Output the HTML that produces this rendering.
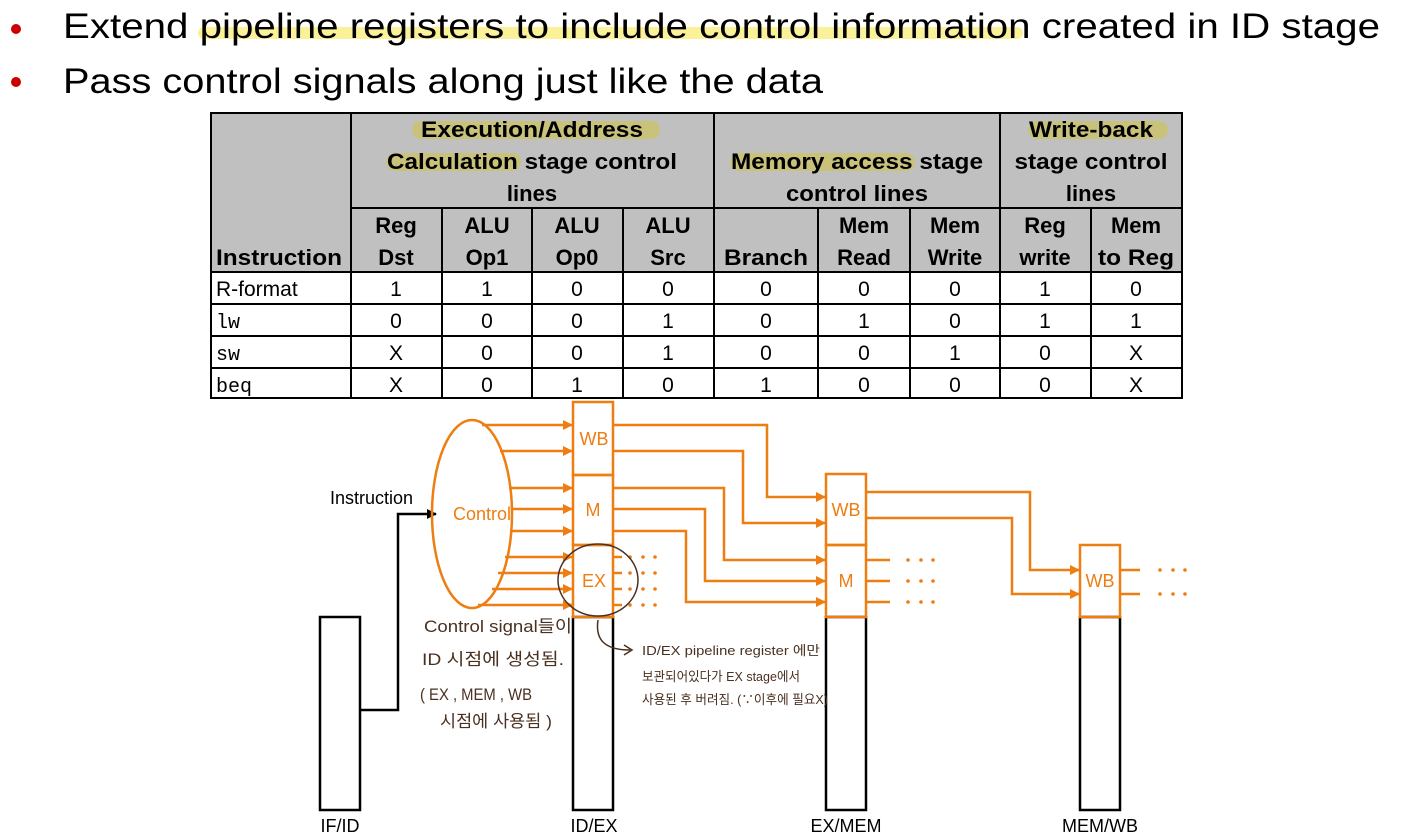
<!DOCTYPE html>
<html><head><meta charset="utf-8"><style>
html,body{margin:0;padding:0;background:#fff;}
svg{display:block;}
</style></head><body>
<svg width="1419" height="836" viewBox="0 0 1419 836" xmlns="http://www.w3.org/2000/svg" font-family="Liberation Sans, sans-serif">
<defs>
<marker id="ao" markerWidth="10" markerHeight="10" refX="9" refY="5" orient="auto" markerUnits="userSpaceOnUse"><path d="M0,0 L10,5 L0,10 z" fill="#ee7d12"/></marker>
<marker id="ab" markerWidth="10" markerHeight="10" refX="9" refY="5" orient="auto" markerUnits="userSpaceOnUse"><path d="M0,0 L10,5 L0,10 z" fill="#000"/></marker>
<g id="d1" fill="#ee7d12"><circle cx="630" cy="0" r="1.8"/><circle cx="643" cy="0" r="1.8"/><circle cx="655" cy="0" r="1.8"/></g>
</defs>
<!-- highlights -->
<rect x="198" y="27" width="825" height="12" rx="6" fill="#fbf199"/>
<circle cx="16" cy="29" r="5" fill="#cc0000"/>
<circle cx="16" cy="82" r="5" fill="#cc0000"/>
<text x="63" y="38" font-size="35" textLength="1317" lengthAdjust="spacingAndGlyphs">Extend pipeline registers to include control information created in ID stage</text>
<text x="63" y="93" font-size="35" textLength="760" lengthAdjust="spacingAndGlyphs">Pass control signals along just like the data</text>

<!-- table -->
<rect x="211" y="113" width="971" height="159" fill="#c0c0c0"/>
<rect x="412" y="121" width="248" height="18" rx="9" fill="#c9c27a"/>
<rect x="386" y="153" width="135" height="18" rx="9" fill="#c9c27a"/>
<rect x="730" y="153" width="185" height="18" rx="9" fill="#c9c27a"/>
<rect x="1028" y="121" width="140" height="18" rx="9" fill="#c9c27a"/>
<g stroke="#000" stroke-width="2" fill="none">
<rect x="211" y="113" width="971" height="285"/>
<line x1="351" y1="113" x2="351" y2="398"/>
<line x1="714" y1="113" x2="714" y2="398"/>
<line x1="1000" y1="113" x2="1000" y2="398"/>
<line x1="351" y1="208" x2="1182" y2="208"/>
<line x1="442" y1="208" x2="442" y2="398"/>
<line x1="532" y1="208" x2="532" y2="398"/>
<line x1="623" y1="208" x2="623" y2="398"/>
<line x1="818" y1="208" x2="818" y2="398"/>
<line x1="910" y1="208" x2="910" y2="398"/>
<line x1="1091" y1="208" x2="1091" y2="398"/>
<line x1="211" y1="272" x2="1182" y2="272"/>
<line x1="211" y1="304" x2="1182" y2="304"/>
<line x1="211" y1="336" x2="1182" y2="336"/>
<line x1="211" y1="368" x2="1182" y2="368"/>
</g>
<g font-size="22" font-weight="bold" text-anchor="middle">
<text x="532" y="137" textLength="222" lengthAdjust="spacingAndGlyphs">Execution/Address</text>
<text x="532" y="169" textLength="290" lengthAdjust="spacingAndGlyphs">Calculation stage control</text>
<text x="532" y="201">lines</text>
<text x="857" y="169" textLength="252" lengthAdjust="spacingAndGlyphs">Memory access stage</text>
<text x="857" y="201" textLength="142" lengthAdjust="spacingAndGlyphs">control lines</text>
<text x="1091" y="137" textLength="124" lengthAdjust="spacingAndGlyphs">Write-back</text>
<text x="1091" y="169" textLength="153" lengthAdjust="spacingAndGlyphs">stage control</text>
<text x="1091" y="201">lines</text>
<text x="279" y="265" textLength="126" lengthAdjust="spacingAndGlyphs">Instruction</text>
<text x="396" y="233">Reg</text><text x="396" y="265">Dst</text>
<text x="487" y="233">ALU</text><text x="487" y="265">Op1</text>
<text x="577" y="233">ALU</text><text x="577" y="265">Op0</text>
<text x="668" y="233">ALU</text><text x="668" y="265">Src</text>
<text x="766" y="265" textLength="84" lengthAdjust="spacingAndGlyphs">Branch</text>
<text x="864" y="233">Mem</text><text x="864" y="265">Read</text>
<text x="955" y="233">Mem</text><text x="955" y="265">Write</text>
<text x="1045" y="233">Reg</text><text x="1045" y="265">write</text>
<text x="1136" y="233">Mem</text><text x="1136" y="265" textLength="76" lengthAdjust="spacingAndGlyphs">to Reg</text>
</g>
<g font-size="21" text-anchor="middle">
<text x="216" y="296" text-anchor="start">R-format</text>
<text x="216" y="328" text-anchor="start" font-family="Liberation Mono, monospace" font-size="20">lw</text>
<text x="216" y="360" text-anchor="start" font-family="Liberation Mono, monospace" font-size="20">sw</text>
<text x="216" y="392" text-anchor="start" font-family="Liberation Mono, monospace" font-size="20">beq</text>
<text x="396" y="296">1</text><text x="487" y="296">1</text><text x="577" y="296">0</text><text x="668" y="296">0</text><text x="766" y="296">0</text><text x="864" y="296">0</text><text x="955" y="296">0</text><text x="1045" y="296">1</text><text x="1136" y="296">0</text>
<text x="396" y="328">0</text><text x="487" y="328">0</text><text x="577" y="328">0</text><text x="668" y="328">1</text><text x="766" y="328">0</text><text x="864" y="328">1</text><text x="955" y="328">0</text><text x="1045" y="328">1</text><text x="1136" y="328">1</text>
<text x="396" y="360">X</text><text x="487" y="360">0</text><text x="577" y="360">0</text><text x="668" y="360">1</text><text x="766" y="360">0</text><text x="864" y="360">0</text><text x="955" y="360">1</text><text x="1045" y="360">0</text><text x="1136" y="360">X</text>
<text x="396" y="392">X</text><text x="487" y="392">0</text><text x="577" y="392">1</text><text x="668" y="392">0</text><text x="766" y="392">1</text><text x="864" y="392">0</text><text x="955" y="392">0</text><text x="1045" y="392">0</text><text x="1136" y="392">X</text>
</g>

<!-- diagram black registers -->
<g stroke="#000" stroke-width="2.5" fill="none">
<rect x="320" y="617" width="40" height="193"/>
<rect x="573" y="617" width="40" height="193"/>
<rect x="826" y="617" width="40" height="193"/>
<rect x="1080" y="617" width="40" height="193"/>
<polyline points="360,710 398,710 398,514 436,514" marker-end="url(#ab)"/>
</g>
<text x="330" y="504" font-size="18">Instruction</text>

<!-- orange -->
<g stroke="#ee7d12" stroke-width="2.5" fill="none">
<ellipse cx="472" cy="514" rx="40" ry="94"/>
<rect x="573" y="402" width="40" height="73"/>
<rect x="573" y="475" width="40" height="70"/>
<rect x="573" y="545" width="40" height="72"/>
<rect x="826" y="474" width="40" height="71"/>
<rect x="826" y="545" width="40" height="72"/>
<rect x="1080" y="545" width="40" height="72"/>
<line x1="482" y1="425" x2="572" y2="425" marker-end="url(#ao)"/>
<line x1="500" y1="451" x2="572" y2="451" marker-end="url(#ao)"/>
<line x1="509" y1="488" x2="572" y2="488" marker-end="url(#ao)"/>
<line x1="511" y1="509" x2="572" y2="509" marker-end="url(#ao)"/>
<line x1="510" y1="531" x2="572" y2="531" marker-end="url(#ao)"/>
<line x1="505" y1="557" x2="572" y2="557" marker-end="url(#ao)"/>
<line x1="498" y1="573" x2="572" y2="573" marker-end="url(#ao)"/>
<line x1="492" y1="589" x2="572" y2="589" marker-end="url(#ao)"/>
<line x1="478" y1="605" x2="572" y2="605" marker-end="url(#ao)"/>
<polyline points="613,425 767,425 767,497 825,497" marker-end="url(#ao)"/>
<polyline points="613,451 743,451 743,523 825,523" marker-end="url(#ao)"/>
<polyline points="613,488 724,488 724,560 825,560" marker-end="url(#ao)"/>
<polyline points="613,509 705,509 705,581 825,581" marker-end="url(#ao)"/>
<polyline points="613,531 686,531 686,602 825,602" marker-end="url(#ao)"/>
<line x1="613" y1="557" x2="622" y2="557"/><line x1="613" y1="573" x2="622" y2="573"/>
<line x1="613" y1="589" x2="622" y2="589"/><line x1="613" y1="605" x2="622" y2="605"/>
<polyline points="866,492 1030,492 1030,570 1079,570" marker-end="url(#ao)"/>
<polyline points="866,518 1012,518 1012,594 1079,594" marker-end="url(#ao)"/>
<line x1="866" y1="560" x2="890" y2="560"/><line x1="866" y1="581" x2="890" y2="581"/><line x1="866" y1="602" x2="890" y2="602"/>
<line x1="1120" y1="570" x2="1140" y2="570"/><line x1="1120" y1="594" x2="1140" y2="594"/>
</g>
<use href="#d1" y="557"/><use href="#d1" y="573"/><use href="#d1" y="589"/><use href="#d1" y="605"/>
<use href="#d1" x="278" y="560"/><use href="#d1" x="278" y="581"/><use href="#d1" x="278" y="602"/>
<use href="#d1" x="530" y="570"/><use href="#d1" x="530" y="594"/>
<g fill="#ee7d12" font-size="18" text-anchor="middle">
<text x="482" y="520">Control</text>
<text x="594" y="445">WB</text>
<text x="593" y="516">M</text>
<text x="594" y="587">EX</text>
<text x="846" y="516">WB</text>
<text x="846" y="587">M</text>
<text x="1100" y="587">WB</text>
</g>
<!-- bottom labels -->
<g font-size="18" text-anchor="middle">
<text x="340" y="832">IF/ID</text>
<text x="594" y="832">ID/EX</text>
<text x="846" y="832">EX/MEM</text>
<text x="1100" y="832">MEM/WB</text>
</g>
<!-- handwriting -->
<g stroke="#4a3020" stroke-width="1.5" fill="none">
<ellipse cx="598" cy="580" rx="40" ry="36"/>
<path d="M598,620 C595,640 605,650 630,650"/>
<path d="M624,645 L632,650 L624,655"/>
</g>
<g fill="#4a3020" font-family="Liberation Sans, 'Noto Sans CJK KR', sans-serif" font-size="17">
<text x="424" y="632" textLength="148" lengthAdjust="spacingAndGlyphs">Control signal들이</text>
<text x="422" y="665" textLength="142" lengthAdjust="spacingAndGlyphs">ID 시점에 생성됨.</text>
<text x="420" y="700" textLength="112" lengthAdjust="spacingAndGlyphs">( EX , MEM , WB</text>
<text x="440" y="727" textLength="112" lengthAdjust="spacingAndGlyphs">시점에 사용됨 )</text>
<text x="642" y="655" font-size="13" textLength="178" lengthAdjust="spacingAndGlyphs">ID/EX pipeline register 에만</text>
<text x="642" y="681" font-size="13" textLength="158" lengthAdjust="spacingAndGlyphs">보관되어있다가 EX stage에서</text>
<text x="642" y="704" font-size="13" textLength="186" lengthAdjust="spacingAndGlyphs">사용된 후 버려짐. (∵이후에 필요X)</text>
</g>
</svg>
</body></html>
